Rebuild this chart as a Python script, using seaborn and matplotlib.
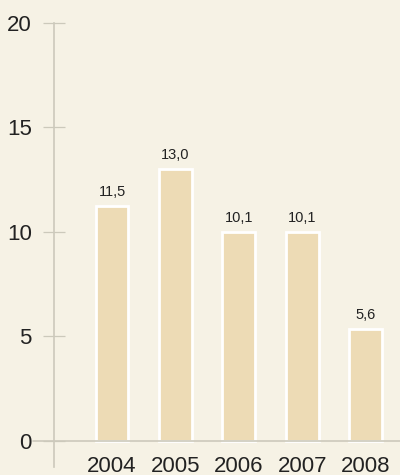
import matplotlib
matplotlib.use("Agg")
import matplotlib.pyplot as plt
import seaborn as sns
import pandas as pd
from matplotlib.lines import Line2D

years = ["2004", "2005", "2006", "2007", "2008"]
values = [11.25, 13.0, 10.0, 10.0, 5.37]
value_labels = ["11,5", "13,0", "10,1", "10,1", "5,6"]
yticks = [0, 5, 10, 15, 20]

BG = "#F6F2E5"
BAR = "#EDDBB5"
AXC = "#CCC9BB"
TXT = "#222222"

sns.set_theme(style="white")
plt.rcParams["font.family"] = ["Liberation Sans", "DejaVu Sans"]

W, H = 400, 475
fig = plt.figure(figsize=(W / 100, H / 100), dpi=100, facecolor=BG)
# axes: left spine at x=54, right edge 400, top y=23, bottom y=467
ax = fig.add_axes([54 / W, (H - 467) / H, (400 - 54) / W, (467 - 23) / H])
ax.set_facecolor(BG)

df = pd.DataFrame({"year": years, "value": values})
sns.barplot(data=df, x="year", y="value", color=BAR, saturation=1,
            edgecolor="white", linewidth=2, width=0.52, ax=ax)

ax.set_ylim(-1.25, 20)
ax.set_xlim(-0.915, 4.543)
ax.set_xlabel("")
ax.set_ylabel("")

for s in ["top", "right", "bottom"]:
    ax.spines[s].set_visible(False)
ax.spines["left"].set_color(AXC)
ax.spines["left"].set_linewidth(1.2)

ax.set_yticks(yticks)
ax.set_yticklabels([str(t) for t in yticks])
ax.tick_params(axis="y", left=True, direction="inout", length=16, width=0.9,
               color=AXC, pad=8, labelsize=16, labelcolor=TXT)
ax.tick_params(axis="x", bottom=False, length=0, pad=-8, labelsize=16,
               labelcolor=TXT)

# zero baseline extending left of the axis
ax.add_line(Line2D([-0.06, 1.0], [0, 0], transform=ax.get_yaxis_transform(),
                   color=AXC, linewidth=1.2, clip_on=False, zorder=3))

ax.bar_label(ax.containers[0], labels=value_labels, padding=5,
             fontsize=10.5, color=TXT)

fig.savefig("out.png", dpi=100, facecolor=BG)
